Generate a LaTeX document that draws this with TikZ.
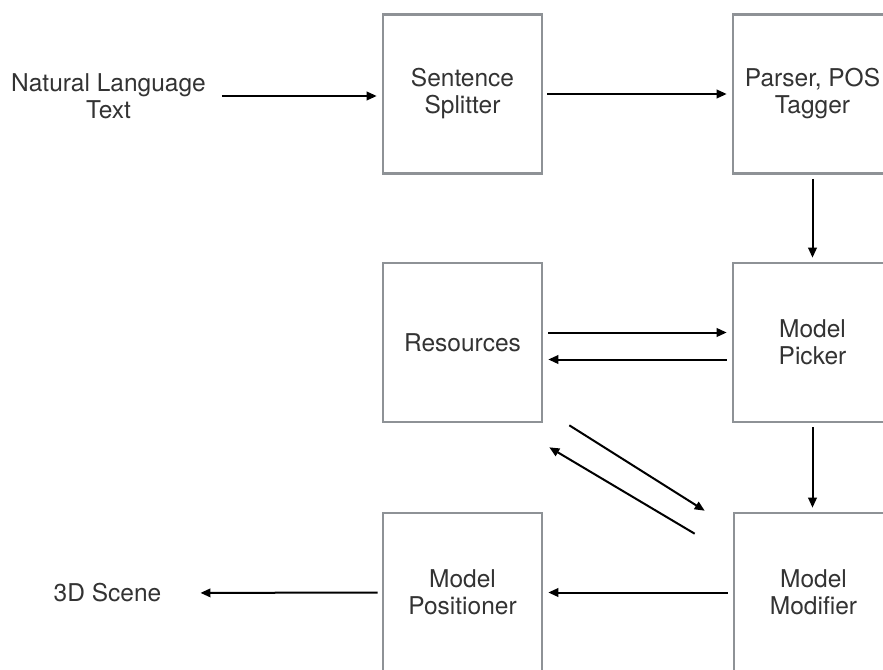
\documentclass[tikz,border=0pt]{standalone}
\usepackage{fontspec}
\setmainfont{TeX Gyre Heros}
\usetikzlibrary{arrows.meta,calc}
\definecolor{boxgray}{HTML}{8E9296}
\definecolor{txt}{HTML}{333333}
\newcommand\dgfont{\fontsize{24.5}{27}\selectfont}
\tikzset{
  box/.style={draw=boxgray, line width=2.6pt, minimum width=159pt, minimum height=159pt,
    inner sep=0pt, align=center, font=\dgfont, text=txt},
  lbl/.style={align=center, font=\dgfont, text=txt, inner sep=0pt},
  arr/.style={-{Triangle[length=10pt,width=8.5pt]}, line width=2pt, black}
}
\begin{document}
\begin{tikzpicture}[x=1pt,y=-1pt]
\useasboundingbox (0,0) rectangle (883,669);
\fill[white] (0,0) rectangle (883,669);
\clip (0,0) rectangle (883,669);

\node[lbl] (nl) at (108.5,96) {Natural Language\\Text};
\node[box] (sent) at (462.5,94) {Sentence\\Splitter};
\node[box] (pars) at (812.5,94) {Parser, POS\\Tagger};
\node[box] (res) at (462.5,342.5) {Resources};
\node[box] (pick) at (812.5,342.5) {Model\\Picker};
\node[box] (pos) at (462.5,592.5) {Model\\Positioner};
\node[box] (mod) at (813.5,592.5) {Model\\Modifier};
\node[lbl] (scene) at (107.5,593) {3D Scene};

\draw[arr, shorten <=16pt, shorten >=5pt] (nl.east) -- (nl.east -| sent.west);
\draw[arr, shorten <=4pt, shorten >=5pt] (sent.east) -- (pars.west);
\draw[arr, shorten <=4pt, shorten >=4pt] (pars.south) -- (pick.north);
\draw[arr, shorten <=5pt, shorten >=5pt] ([yshift=10pt]res.east) -- ([yshift=10pt]pick.west);
\draw[arr, shorten <=5pt, shorten >=5pt] ([yshift=-17pt]pick.west) -- ([yshift=-17pt]res.east);
\draw[arr, shorten <=4pt, shorten >=4pt] (pick.south) -- (pick.south |- mod.north);
\draw[arr] ([shift={(26,2)}]res.south east) -- ([shift={(-28,-1)}]mod.north west);
\draw[arr] ([shift={(-38,22)}]mod.north west) -- ([shift={(6,24)}]res.south east);
\draw[arr, shorten <=5pt, shorten >=5pt] (mod.west) -- (pos.east);
\draw[arr, shorten <=4pt, shorten >=39pt] (pos.west) -- (scene.east);
\end{tikzpicture}
\end{document}
